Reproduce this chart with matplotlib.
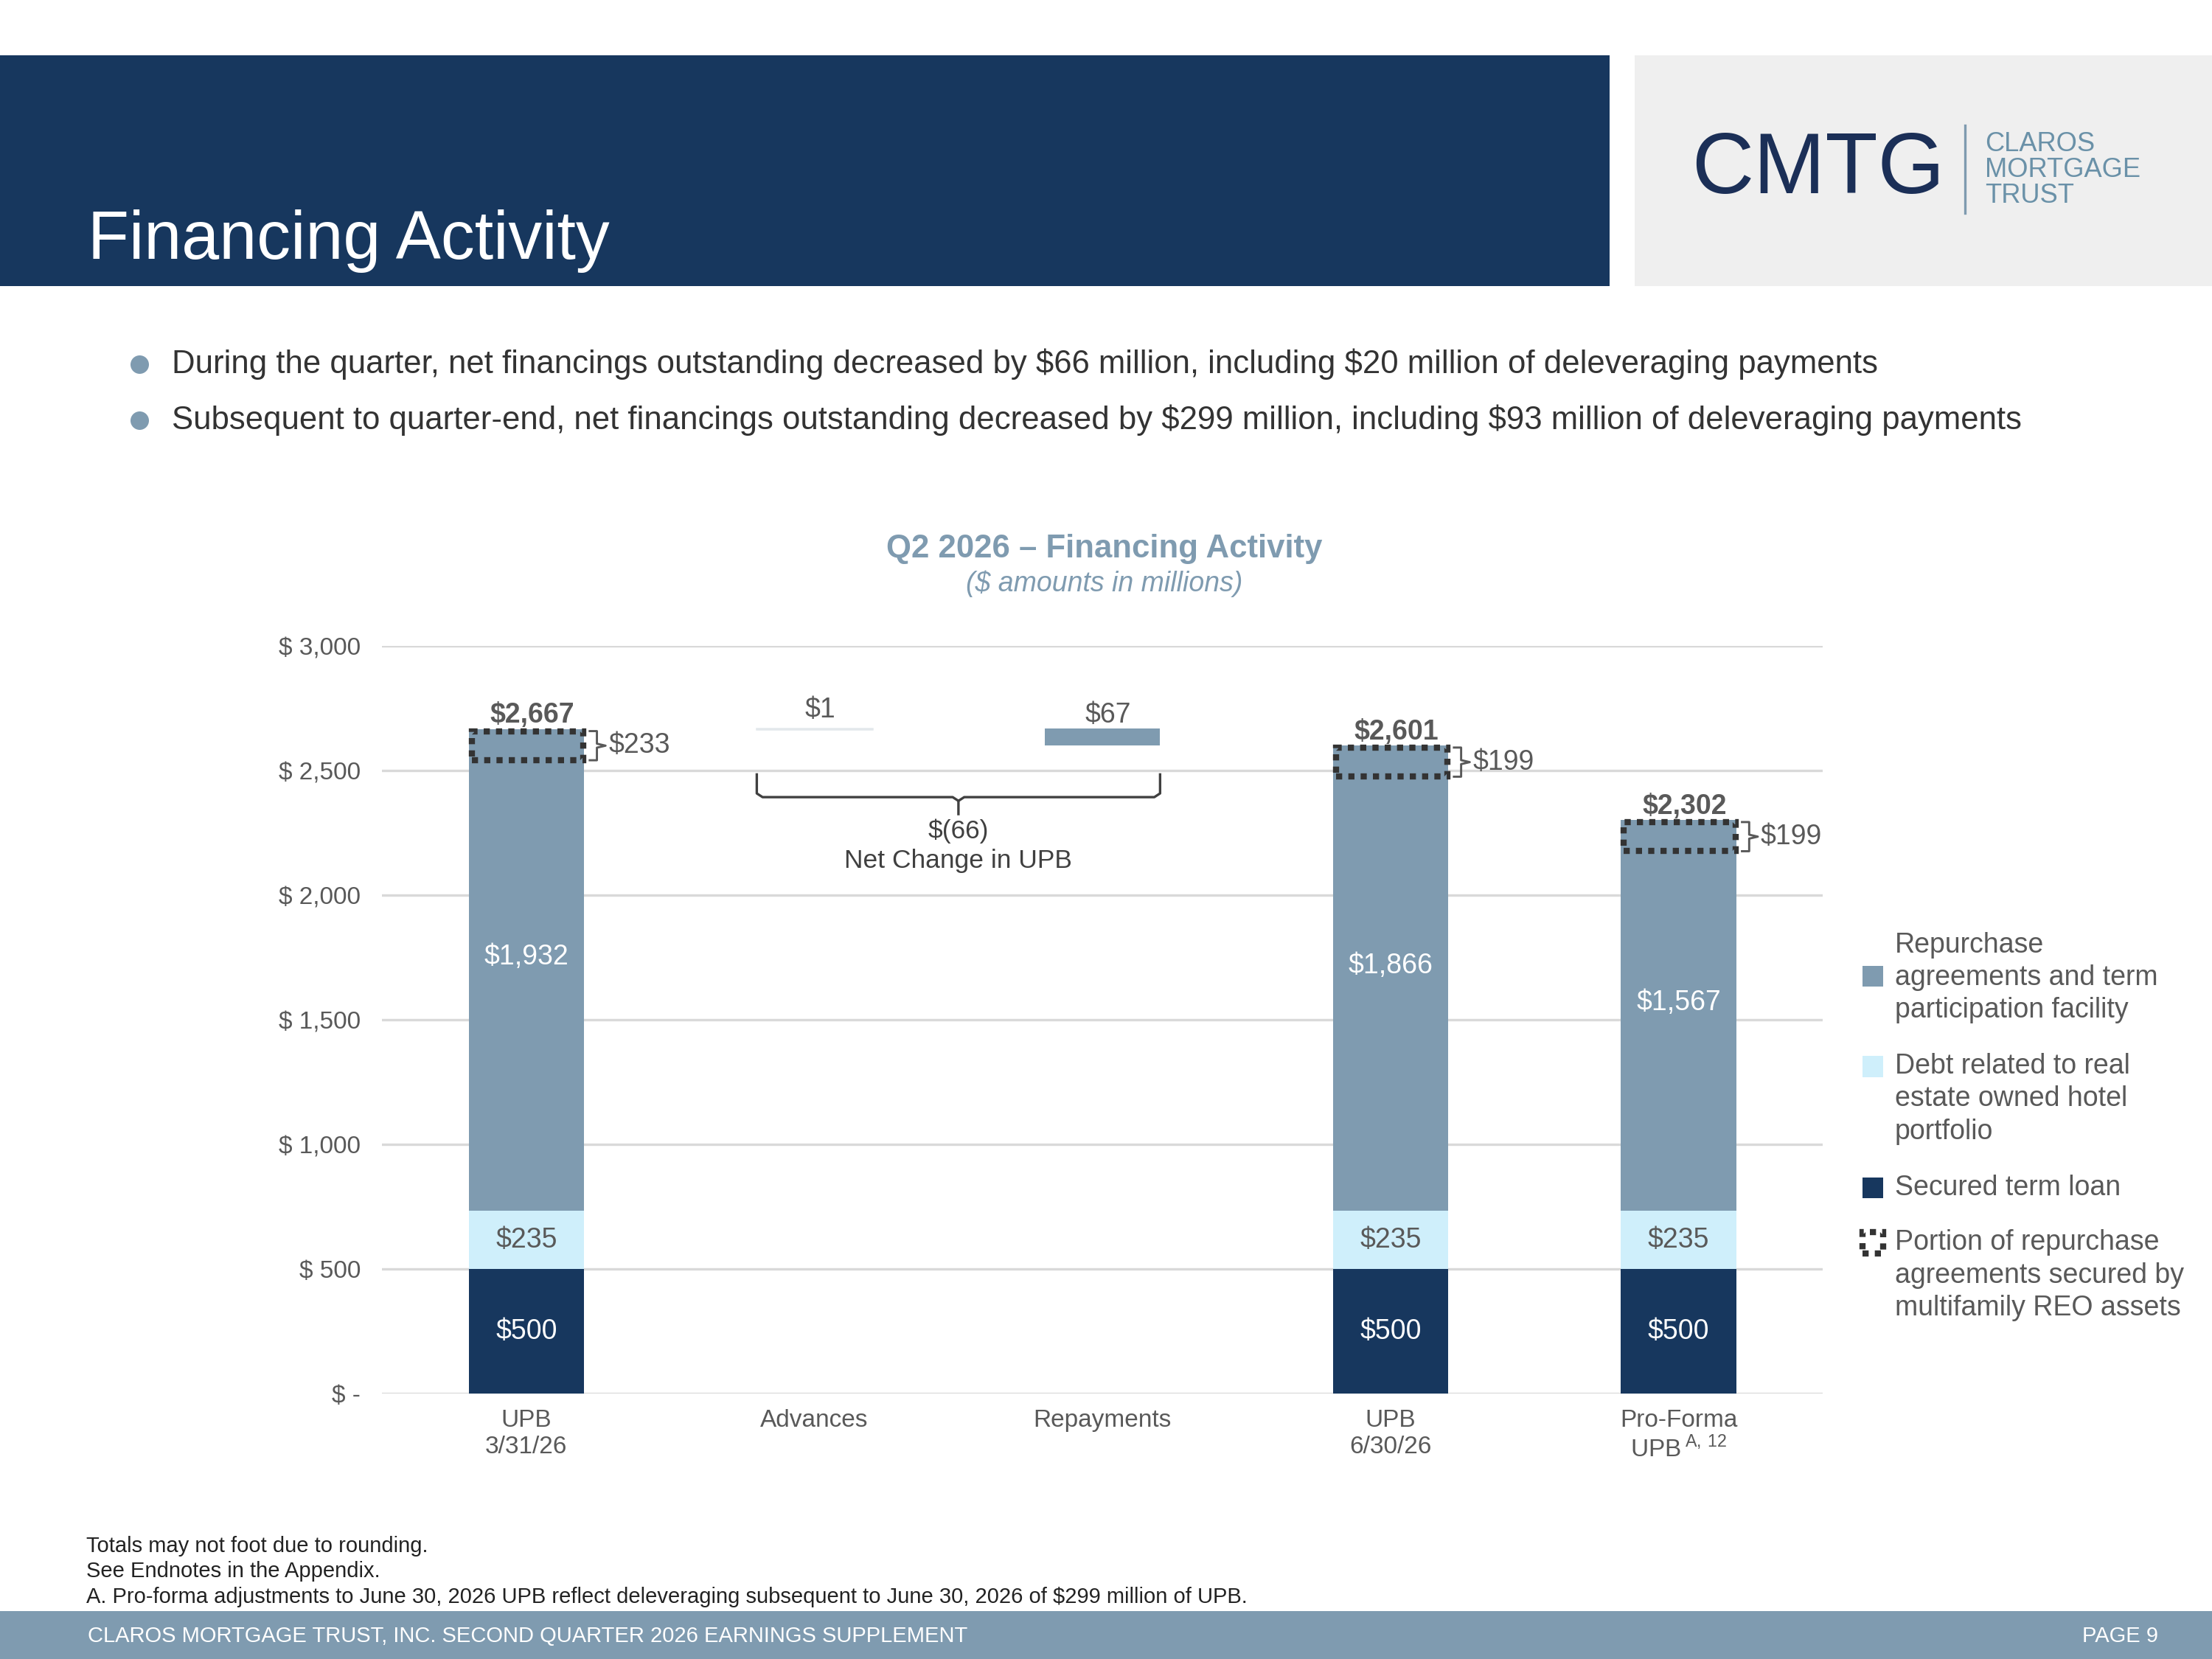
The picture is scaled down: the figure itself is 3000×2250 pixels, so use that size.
import numpy as np
import matplotlib
matplotlib.use('Agg')
import matplotlib.pyplot as plt
from matplotlib.patches import Rectangle
from matplotlib.lines import Line2D

plt.rcParams['font.family'] = ['Liberation Sans', 'DejaVu Sans']

#%% data
categories = ['UPB\n3/31/26', 'Advances', 'Repayments', 'UPB\n6/30/26',
              'Pro-Forma\nUPB$\\,^{\\mathregular{A,\\,12}}$']
upb_idx = [0, 3, 4]
secured_term_loan = [500, 500, 500]
reo_hotel_debt = [235, 235, 235]
repo_facility = [1932, 1866, 1567]
multifamily_portion = [233, 199, 199]
advances = 1
repayments = 67
net_change = -66
yticks = [0, 500, 1000, 1500, 2000, 2500, 3000]
ytick_labels = ['$ -', '$ 500', '$ 1,000', '$ 1,500', '$ 2,000', '$ 2,500', '$ 3,000']
legend_labels = ['Repurchase\nagreements and term\nparticipation facility',
                 'Debt related to real\nestate owned hotel\nportfolio',
                 'Secured term loan',
                 'Portion of repurchase\nagreements secured by\nmultifamily REO assets']
bullets = ['During the quarter, net financings outstanding decreased by \\$66 million, including \\$20 million of deleveraging payments',
           'Subsequent to quarter-end, net financings outstanding decreased by \\$299 million, including \\$93 million of deleveraging payments']
footnotes = ['Totals may not foot due to rounding.',
             'See Endnotes in the Appendix.',
             'A. Pro-forma adjustments to June 30, 2026 UPB reflect deleveraging subsequent to June 30, 2026 of $299 million of UPB.']

NAVY = '#17375E'
STEEL = '#7F9BB0'
LIGHT = '#CFEFFB'
GREY = '#595959'

W, H = 1568.0, 1176.0
def fx(px):
    return px / W
def fy(py):
    return 1 - py / H

fig = plt.figure(figsize=(10, 7.5), dpi=300)

#%% header
fig.add_artist(Rectangle((0, fy(203)), fx(1141), 164 / H, transform=fig.transFigure, color=NAVY, lw=0))
fig.add_artist(Rectangle((fx(1159), fy(203)), fx(W - 1159), 164 / H, transform=fig.transFigure, color='#EFEFEF', lw=0))
fig.text(fx(62), fy(171), 'Financing Activity', color='white', fontsize=22, va='center')
fig.text(fx(1199), fy(121), 'CMTG', color='#1B2F57', fontsize=28, va='center')
fig.add_artist(Line2D([fx(1393), fx(1393)], [fy(89), fy(151)], transform=fig.transFigure, color=STEEL, lw=0.8))
for i, word in enumerate(['CLAROS', 'MORTGAGE', 'TRUST']):
    fig.text(fx(1407), fy(102 + 18.5 * i), word, color='#6A91A8', fontsize=8.7, va='center')

#%% bullets
for i, b in enumerate(bullets):
    yy = 258 + 40 * i
    fig.add_artist(Line2D([fx(99)], [fy(yy)], transform=fig.transFigure, marker='o', markersize=5,
                          color=STEEL, lw=0))
    fig.text(fx(122), fy(yy), b, color='#333333', fontsize=10.5, va='center')

#%% chart titles
fig.text(fx(783), fy(389), 'Q2 2026 \u2013 Financing Activity', color=STEEL, fontsize=10.5,
         fontweight='bold', ha='center', va='center')
fig.text(fx(783), fy(414), '($ amounts in millions)', color=STEEL, fontsize=9,
         style='italic', ha='center', va='center')

#%% axes
ax = fig.add_axes([fx(271), fy(988), fx(1292) - fx(271), (988 - 458) / H])
ax.set_xlim(-0.5, 4.5)
ax.set_ylim(0, 3000)
for s in ax.spines.values():
    s.set_visible(False)
ax.yaxis.grid(True, color='#D9D9D9', lw=0.8)
ax.set_axisbelow(True)
ax.set_yticks(yticks)
ax.set_yticklabels(ytick_labels, fontsize=8, color=GREY)
ax.set_xticks(range(len(categories)))
ax.set_xticklabels(categories, fontsize=8, color=GREY)
ax.tick_params(axis='y', length=0, pad=7)
ax.tick_params(axis='x', length=0, pad=5)

bw = 0.4
x = np.array(upb_idx)
sec = np.array(secured_term_loan)
reo = np.array(reo_hotel_debt)
rep = np.array(repo_facility)
tot = sec + reo + rep

ax.bar(x, sec, bw, color=NAVY)
ax.bar(x, reo, bw, bottom=sec, color=LIGHT)
ax.bar(x, rep, bw, bottom=sec + reo, color=STEEL)

# waterfall steps
start = tot[0]
ax.bar(1, advances, bw, bottom=start, color='#E3E8EC', edgecolor='#E3E8EC', lw=0.6)
ax.bar(2, repayments, bw, bottom=start + advances - repayments, color=STEEL)
ax.text(1.02, start + advances + 75, '$%d' % advances, ha='center', va='center', fontsize=9, color=GREY)
ax.text(2.02, start + advances + 55, '$%d' % repayments, ha='center', va='center', fontsize=9, color=GREY)

for xi, s, r, p, t, mf in zip(x, sec, reo, rep, tot, multifamily_portion):
    ax.text(xi, s / 2, '$%d' % s, ha='center', va='center', fontsize=9, color='white')
    ax.text(xi, s + r / 2, '$%d' % r, ha='center', va='center', fontsize=9, color=GREY)
    ax.text(xi, s + r + p / 2 + 50, '${:,}'.format(p), ha='center', va='center', fontsize=9, color='white')
    ax.text(xi + 0.02, t + 55, '${:,}'.format(t), ha='center', va='center', fontsize=9, color=GREY, fontweight='bold')
    # dotted box marks multifamily portion
    top, bot = t - 8, t - 125
    ax.add_patch(Rectangle((xi - bw / 2 + 0.01, bot), bw - 0.012, top - bot, fill=False,
                           edgecolor='#333333', lw=2, linestyle=(0, (1, 1)), zorder=3))
    x0 = xi + bw / 2 + 0.02
    x1 = x0 + 0.025
    x2 = x1 + 0.03
    mid = (top + bot) / 2
    ax.plot([x0, x1, x1, x2, x1, x1, x0], [top, top, mid + 8, mid, mid - 8, bot, bot],
            color=GREY, lw=0.7, clip_on=False)
    ax.text(x2 + 0.01, mid, '$%d' % mf, ha='left', va='center', fontsize=9, color=GREY)

# net change brace
bl, br, bm = 1 - bw / 2, 2 + bw / 2, 1.5
yt, yh, yb = 2485, 2394, 2326
ax.plot([bl, bl, bl + 0.02, bm - 0.02, bm, bm], [yt, yh + 15, yh, yh, yh - 15, yb], color='#404040', lw=0.8)
ax.plot([br, br, br - 0.02, bm + 0.02, bm], [yt, yh + 15, yh, yh, yh - 15], color='#404040', lw=0.8)
ax.text(bm, 2258, '$(%d)' % abs(net_change), ha='center', va='center', fontsize=8.5, color='#404040')
ax.text(bm, 2139, 'Net Change in UPB', ha='center', va='center', fontsize=8.5, color='#404040')

#%% legend
sq = 15
colors = [STEEL, LIGHT, NAVY, None]
sq_y = [692, 756, 842, 881]
txt_y = [693, 779, 842, 904]
for c, sy, ty, lab in zip(colors, sq_y, txt_y, legend_labels):
    if c is None:
        fig.add_artist(Rectangle((fx(1320), fy(sy + sq / 2)), fx(sq), sq / H, transform=fig.transFigure,
                                 fill=False, edgecolor='#333333', lw=2, linestyle=(0, (1, 1))))
    else:
        fig.add_artist(Rectangle((fx(1320), fy(sy + sq / 2)), fx(sq), sq / H, transform=fig.transFigure,
                                 color=c, lw=0))
    fig.text(fx(1343), fy(ty), lab, fontsize=9, color=GREY, va='center', linespacing=1.29)

#%% footnotes and footer
for i, f in enumerate(footnotes):
    fig.text(fx(61), fy(1096 + 18 * i), f, fontsize=7, color='#222222', va='center')
fig.add_artist(Rectangle((0, 0), 1, (H - 1142) / H, transform=fig.transFigure, color=STEEL, lw=0))
fig.text(fx(62), fy(1160), 'CLAROS MORTGAGE TRUST, INC. SECOND QUARTER 2026 EARNINGS SUPPLEMENT',
         fontsize=7, color='white', va='center')
fig.text(fx(1530), fy(1160), 'PAGE 9', fontsize=7, color='white', va='center', ha='right')

fig.savefig('out.png', dpi=300)
